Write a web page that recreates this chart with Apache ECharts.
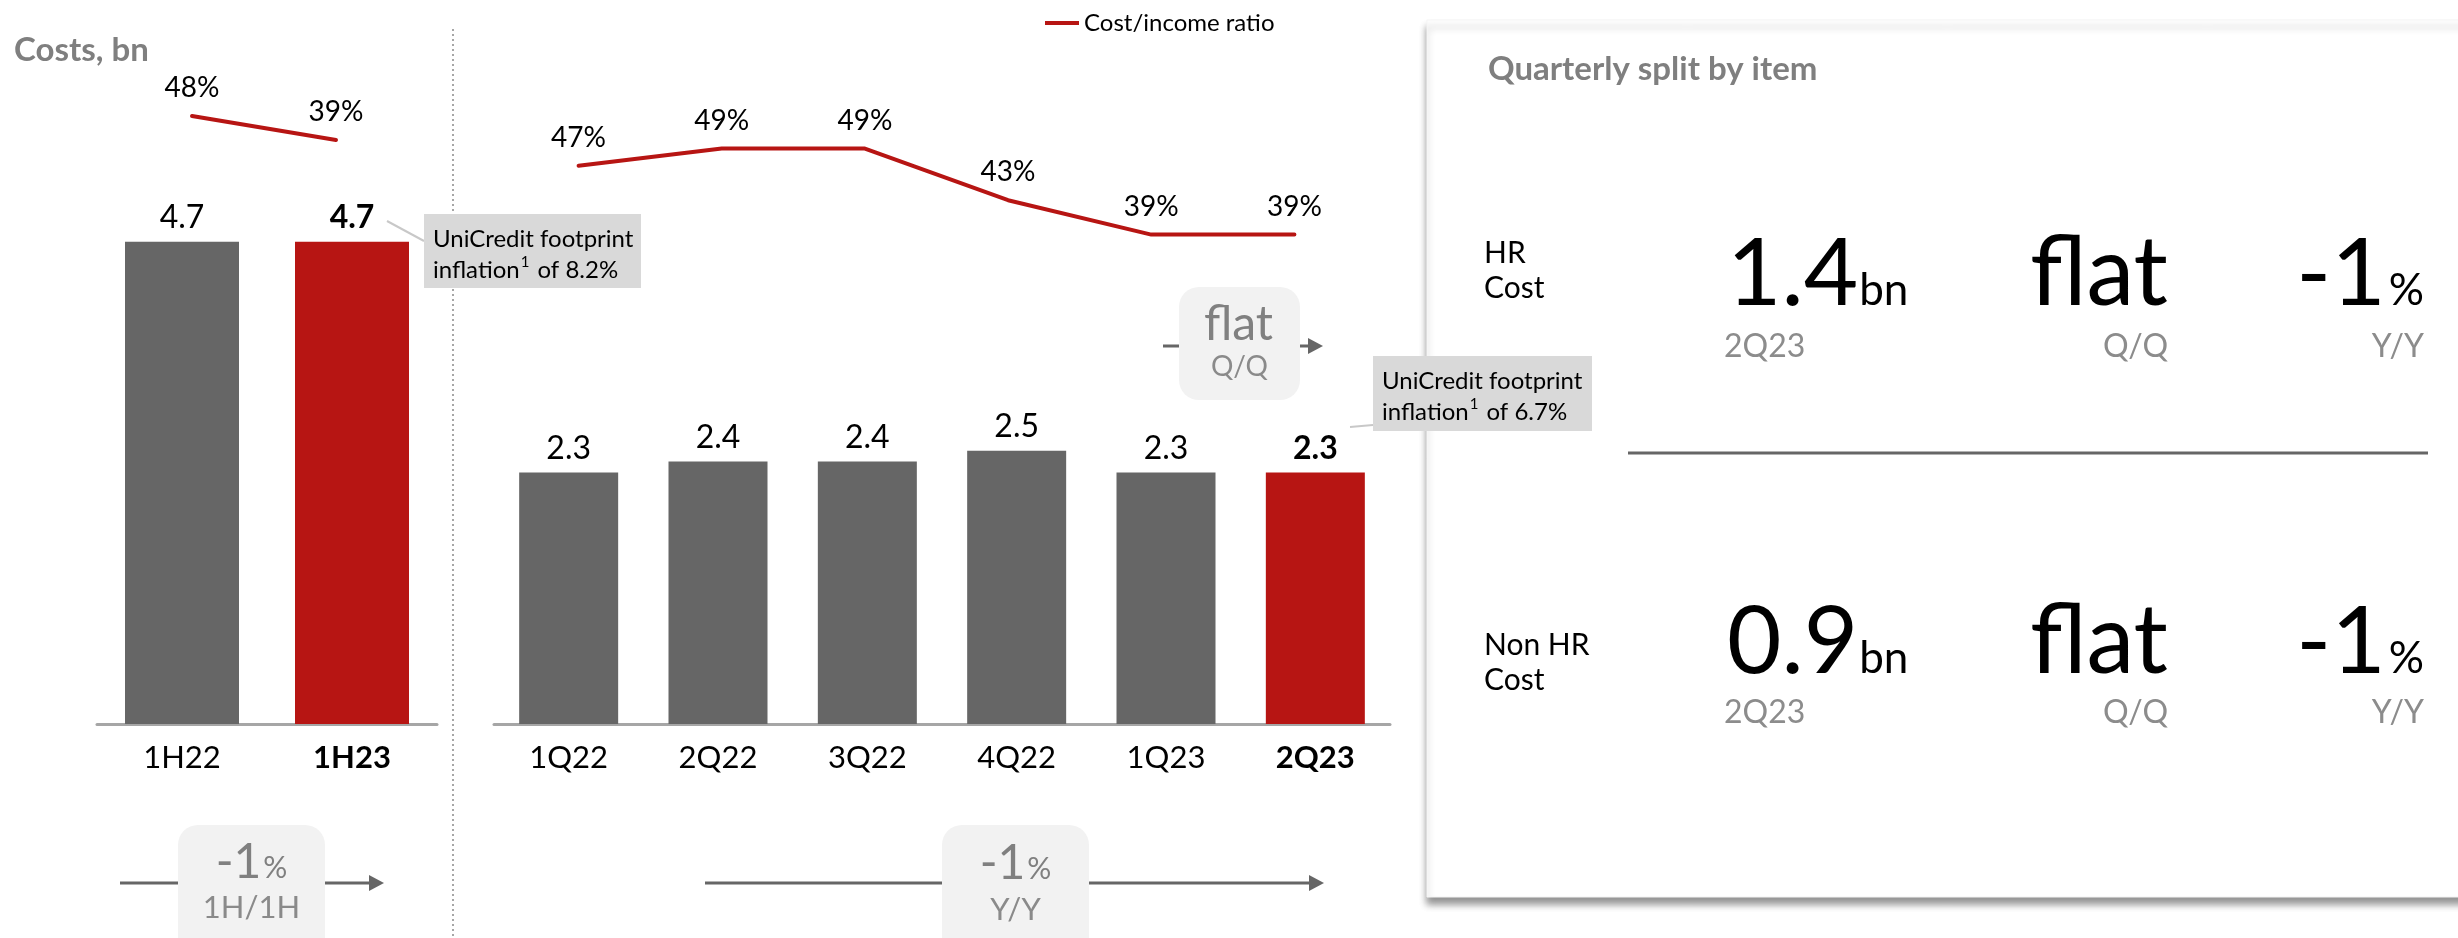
<!DOCTYPE html>
<html>
<head>
<meta charset="utf-8">
<script src="https://cdn.jsdelivr.net/npm/echarts@6/dist/echarts.min.js"></script>
<style>
  html, body { margin: 0; padding: 0; background: #fff; }
  #chart { width: 2458px; height: 938px; }
</style>
</head>
<body>
<div id="chart"></div>
<script>
// Half-year view
const halfCats = ['1H22', '1H23'];
const halfCosts = [4.7, 4.7];
const halfRatio = [48, 39];
const halfChange = '-1';
const halfChangeLabel = '1H/1H';

// Quarterly view
const qCats = ['1Q22', '2Q22', '3Q22', '4Q22', '1Q23', '2Q23'];
const qCosts = [2.3, 2.4, 2.4, 2.5, 2.3, 2.3];
const qRatio = [47, 49, 49, 43, 39, 39];
const yoyChange = '-1';
const yoyLabel = 'Y/Y';
const qoqChange = 'flat';
const qoqLabel = 'Q/Q';

// Inflation notes
const notes = [
  ['UniCredit footprint', 'inflation\u00B9 of 8.2%'],
  ['UniCredit footprint', 'inflation\u00B9 of 6.7%']
];

// Quarterly split by item
const splitNames = [['HR', 'Cost'], ['Non HR', 'Cost']];
const splitValues = ['1.4', '0.9'];
const splitPeriod = '2Q23';
const splitQoQ = ['flat', 'flat'];
const splitYoY = ['-1', '-1'];

const FONT = "Lato, 'Open Sans', sans-serif";
const RED = '#b71513';
const GREY = '#666666';
const LIGHT = '#8c8c8c';

const measureCtx = document.createElement('canvas').getContext('2d');
function textWidth(t, size, weight) {
  measureCtx.font = (weight || 'normal') + ' ' + size + 'px ' + FONT;
  return measureCtx.measureText(t).width;
}

// text placed by its baseline
function txt(t, x, base, size, o) {
  o = o || {};
  return {
    type: 'text', x: x, y: base - 0.322 * size, z: o.z || 20,
    style: {
      text: t, fontSize: size, fontFamily: FONT, fontWeight: o.weight || 'normal',
      fill: o.color || '#000', align: o.align || 'left', verticalAlign: 'middle'
    }
  };
}

function arrow(x1, x2, y) {
  return [
    { type: 'line', z: 5, shape: { x1: x1, y1: y, x2: x2 - 12, y2: y }, style: { stroke: GREY, lineWidth: 3 } },
    { type: 'polygon', z: 5, shape: { points: [[x2 - 15, y - 8], [x2, y], [x2 - 15, y + 8]] }, style: { fill: GREY } }
  ];
}

function changeBadge(box, big, unit, sub, bigSize, subSize, bigBase, subBase) {
  const els = [{ type: 'rect', z: 10, shape: { x: box[0], y: box[1], width: box[2], height: box[3], r: 20 }, style: { fill: '#f2f2f2' } }];
  const cx = box[0] + box[2] / 2;
  const wBig = textWidth(big, bigSize);
  const wUnit = unit ? textWidth(unit, 30) : 0;
  const start = cx - (wBig + wUnit + 2) / 2;
  els.push(txt(big, start, bigBase, bigSize, { color: '#808080' }));
  if (unit) els.push(txt(unit, start + wBig + 2, bigBase, 30, { color: '#808080' }));
  els.push(txt(sub, cx, subBase, subSize, { color: '#8a8a8a', align: 'center' }));
  return els;
}

// note text: the footnote mark is raised as a superscript
function noteLine(line, x, top) {
  const parts = line.split('\u00B9');
  const text = parts.length > 1 ? '{a|' + parts[0] + '}{s|1}{a|' + parts[1] + '}' : '{a|' + line + '}';
  return {
    type: 'text', x: x, y: top, z: 12,
    style: {
      text: text, verticalAlign: 'top', align: 'left',
      rich: {
        a: { fontSize: 24, fontFamily: FONT, fill: '#000', lineHeight: 30, verticalAlign: 'middle' },
        s: { fontSize: 15, fontFamily: FONT, fill: '#000', lineHeight: 18, verticalAlign: 'top', padding: [0, 2, 0, 1] }
      }
    }
  };
}

function note(lines, box, from) {
  return [
    { type: 'line', z: 11, shape: { x1: from[0], y1: from[1], x2: box[0], y2: from[2] }, style: { stroke: '#c8c8c8', lineWidth: 2 } },
    { type: 'rect', z: 11, shape: { x: box[0], y: box[1], width: box[2], height: box[3] }, style: { fill: '#d9d9d9' } },
    noteLine(lines[0], box[0] + 9, box[1] + 10),
    noteLine(lines[1], box[0] + 9, box[1] + 41)
  ];
}

const graphics = [];
// card holding the split by item
graphics.push({
  type: 'rect', z: 1,
  shape: { x: 1427, y: 20, width: 1060, height: 877 },
  style: { fill: '#fff', stroke: '#f5f5f5', lineWidth: 1, shadowBlur: 7, shadowOffsetY: 7, shadowOffsetX: 0, shadowColor: 'rgba(0,0,0,0.42)' }
});
// panel separator
graphics.push({ type: 'line', z: 3, shape: { x1: 453, y1: 29, x2: 453, y2: 940 }, style: { stroke: '#a6a6a6', lineWidth: 2, lineDash: [2, 3] } });

graphics.push(txt('Costs, bn', 14, 61, 33, { weight: 'bold', color: '#7f7f7f' }));
graphics.push(txt('Quarterly split by item', 1488, 80, 33, { weight: 'bold', color: '#7f7f7f', z: 5 }));

// change badges with arrows
graphics.push(...arrow(120, 384, 883));
graphics.push(...changeBadge([178, 825, 147, 140], halfChange, '%', halfChangeLabel, 48, 31, 878, 918));
graphics.push(...arrow(705, 1324, 883));
graphics.push(...changeBadge([942, 825, 147, 140], yoyChange, '%', yoyLabel, 48, 31, 879, 920));
graphics.push(...arrow(1163, 1323, 346));
graphics.push(...changeBadge([1179, 287, 121, 113], qoqChange, null, qoqLabel, 48, 28, 340, 376));

// inflation notes
graphics.push(...note(notes[0], [424, 214, 217, 74], [387, 221, 241]));
graphics.push(...note(notes[1], [1373, 356, 219, 75], [1350, 427, 425]));

// split rows
const rowLayout = [
  { big: 305, names: [263, 298], sub: 357 },
  { big: 673, names: [655, 690], sub: 723 }
];
rowLayout.forEach((r, i) => {
  graphics.push(txt(splitNames[i][0], 1484, r.names[0], 30, { z: 5 }));
  graphics.push(txt(splitNames[i][1], 1484, r.names[1], 30, { z: 5 }));
  const wv = textWidth(splitValues[i], 94);
  graphics.push(txt(splitValues[i], 1727, r.big, 94, { z: 5 }));
  graphics.push(txt('bn', 1727 + wv + 1, r.big, 44, { z: 5 }));
  graphics.push(txt(splitPeriod, 1724, r.sub, 32, { color: LIGHT, z: 5 }));
  graphics.push(txt(splitQoQ[i], 2168, r.big, 96, { align: 'right', z: 5 }));
  graphics.push(txt('Q/Q', 2168, r.sub, 32, { color: LIGHT, align: 'right', z: 5 }));
  const wp = textWidth('%', 44);
  graphics.push(txt('%', 2424, r.big, 44, { align: 'right', z: 5 }));
  graphics.push(txt(splitYoY[i], 2424 - wp - 3, r.big, 94, { align: 'right', z: 5 }));
  graphics.push(txt('Y/Y', 2424, r.sub, 32, { color: LIGHT, align: 'right', z: 5 }));
});
graphics.push({ type: 'line', z: 5, shape: { x1: 1628, y1: 453, x2: 2428, y2: 453 }, style: { stroke: GREY, lineWidth: 3 } });

function barData(values) {
  const last = values.length - 1;
  return values.map((v, i) => ({
    value: v,
    itemStyle: { color: i === last ? RED : GREY },
    label: { fontWeight: i === last ? 'bold' : 'normal' }
  }));
}

function catAxis(gridIndex, cats) {
  const last = cats.length - 1;
  return {
    type: 'category', gridIndex: gridIndex, data: cats,
    axisLine: { show: true, lineStyle: { color: '#a6a6a6', width: 3 } },
    axisTick: { show: false },
    axisLabel: {
      interval: 0, margin: 18, fontSize: 31, fontFamily: FONT, color: '#000',
      formatter: (v, i) => i === last ? '{b|' + v + '}' : v,
      rich: { b: { fontSize: 31, fontFamily: FONT, fontWeight: 'bold', color: '#000' } }
    }
  };
}
function hiddenCat(gridIndex, cats) {
  return { type: 'category', gridIndex: gridIndex, data: cats, show: false };
}
function hiddenVal(gridIndex, min, max) {
  return { type: 'value', gridIndex: gridIndex, min: min, max: max, show: false, splitLine: { show: false } };
}

const barLabel = { show: true, position: 'top', distance: 8, fontSize: 32, fontFamily: FONT, color: '#000', formatter: p => p.value.toFixed(1) };
const lineLabel = { show: true, position: 'top', distance: 14, fontSize: 28, fontFamily: FONT, color: '#000', formatter: '{c}%' };
const lineStyle = { color: RED, width: 4, cap: 'round' };

const option = {
  backgroundColor: '#ffffff',
  animation: false,
  legend: {
    data: ['Cost/income ratio'], left: 1040, top: 6,
    icon: 'rect', itemWidth: 34, itemHeight: 4, itemGap: 12,
    textStyle: { fontSize: 24, fontFamily: FONT, color: '#000' },
    itemStyle: { color: RED }
  },
  grid: [
    { left: 97, width: 340, top: 211, height: 513 },
    { left: 494, width: 896, top: 396, height: 328 },
    { left: 120, width: 288, top: 84, height: 160 },
    { left: 507, width: 859, top: 54, height: 344 }
  ],
  xAxis: [catAxis(0, halfCats), catAxis(1, qCats), hiddenCat(2, halfCats), hiddenCat(3, qCats)],
  yAxis: [hiddenVal(0, 0, 5), hiddenVal(1, 0, 3), hiddenVal(2, 0, 60), hiddenVal(3, 20, 60)],
  series: [
    { type: 'bar', name: 'Costs 1H', xAxisIndex: 0, yAxisIndex: 0, barWidth: 114, data: barData(halfCosts), label: barLabel, z: 3 },
    { type: 'bar', name: 'Costs Q', xAxisIndex: 1, yAxisIndex: 1, barWidth: 99, data: barData(qCosts), label: barLabel, z: 3 },
    { type: 'line', name: 'Cost/income ratio', xAxisIndex: 2, yAxisIndex: 2, data: halfRatio, symbol: 'circle', symbolSize: 0.1, itemStyle: { color: RED }, lineStyle: lineStyle, label: lineLabel, z: 4 },
    { type: 'line', name: 'Cost/income ratio', xAxisIndex: 3, yAxisIndex: 3, data: qRatio, symbol: 'circle', symbolSize: 0.1, itemStyle: { color: RED }, lineStyle: lineStyle, label: lineLabel, z: 4 }
  ],
  graphic: { elements: graphics }
};

const chart = echarts.init(document.getElementById('chart'), null, { renderer: 'canvas', width: 2458, height: 938 });
chart.setOption(option);
</script>
</body>
</html>
